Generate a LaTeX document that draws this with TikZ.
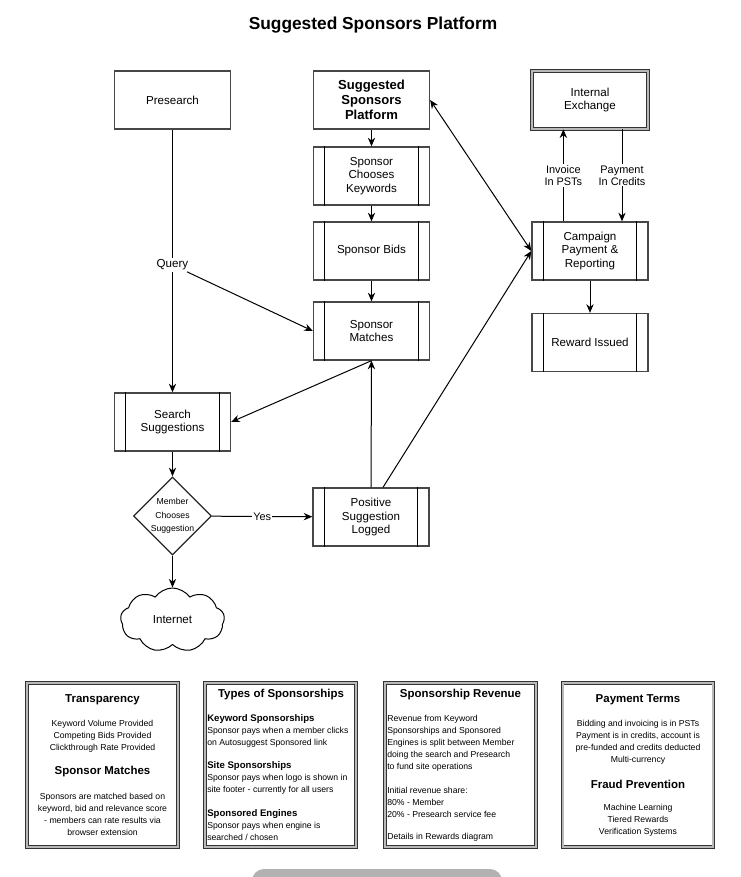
\documentclass[tikz,border=0pt]{standalone}
\usepackage{fontspec}
\setmainfont{Liberation Sans}
\usetikzlibrary{arrows.meta,shapes.geometric,shapes.symbols}
\tikzset{
  box/.style={draw=black!72, line width=1pt, minimum width=87pt, minimum height=43.5pt,
    align=center, inner sep=1pt, font=\fontsize{8.7}{10}\selectfont},
  xbox/.style={box, draw=black!80, line width=0.5pt, double=gray!55, double distance=1.6pt},
  infobox/.style={draw=black!80, line width=0.5pt, double=gray!55, double distance=1.6pt,
    minimum width=113pt, minimum height=123pt},
  head/.style={font=\bfseries\fontsize{8.6}{10}\selectfont, inner sep=0pt},
  body/.style={font=\fontsize{6.5}{9}\selectfont, inner sep=0pt},
  lbl/.style={fill=white, inner sep=1pt, align=center, font=\fontsize{8.2}{9}\selectfont},
  conn/.style={->, line width=0.75pt}
}
\begin{document}
\begin{tikzpicture}[x=0.75pt,y=-0.75pt,>={Stealth[length=6.5pt,width=5.5pt]}]
\useasboundingbox (0,0) rectangle (741,877);
\node[font=\bfseries\fontsize{13}{15}\selectfont] (title) at (373,25) {Suggested Sponsors Platform};

% top row
\node[box] (pres) at (172.5,100) {Presearch};
\node[box, font=\bfseries\fontsize{9.8}{11.25}\selectfont] (ssp) at (371.5,100) {Suggested\\Sponsors\\Platform};
\node[xbox] (xch) at (590,100) {Internal\\Exchange};

% process boxes
\node[box] (keyw) at (371.5,176) {Sponsor\\Chooses\\Keywords};
\node[box] (bids) at (371.5,251) {Sponsor Bids};
\node[box] (match) at (371.5,331) {Sponsor\\Matches};
\node[box] (camp) at (590,251) {Campaign\\Payment \&\\Reporting};
\node[box] (reward) at (590,342.5) {Reward Issued};
\node[box] (ssug) at (172.5,422) {Search\\Suggestions};
\node[box] (logged) at (371,517) {Positive\\Suggestion\\Logged};
\foreach \n in {keyw,bids,match,camp,reward,ssug,logged}{
  \draw[draw=black, line width=0.75pt] ([xshift=9pt]\n.north west) -- ([xshift=9pt]\n.south west);
  \draw[draw=black, line width=0.75pt] ([xshift=-9pt]\n.north east) -- ([xshift=-9pt]\n.south east);
}

\node[diamond, draw=black!85, line width=1pt, align=center, inner sep=0pt,
  minimum width=58.5pt, minimum height=57.75pt, font=\fontsize{6.5}{10}\selectfont] (choose) at (172.5,516) {Member\\Chooses\\Suggestion};
\node[cloud, draw, line width=0.75pt, cloud puffs=9, cloud puff arc=110, aspect=1.6, minimum width=78pt,
  minimum height=48pt, font=\fontsize{8.7}{10}\selectfont] (net) at (172.5,620) {Internet};

% connectors
\draw[conn] (pres.south) -- (ssug.north);
\node[lbl, font=\fontsize{8.7}{10}\selectfont] (query) at (172.5,265) {Query};
\draw[conn] (query) -- (match.west);
\draw[conn] (ssp) -- (keyw);
\draw[conn] (keyw) -- (bids);
\draw[conn] (bids) -- (match);
\draw[conn] (match.south) -- (ssug.east);
\draw[conn] (logged.north) -- (match.south);
\draw[conn] ([xshift=9pt]logged.north) -- (camp.west);
\draw[conn, <->] (ssp.east) -- (camp.west);
\draw[conn] ([xshift=-20pt]camp.north) -- node[lbl]{Invoice\\In PSTs} ([xshift=-20pt]xch.south);
\draw[conn] ([xshift=24pt]xch.south) -- node[lbl]{Payment\\In Credits} ([xshift=24pt]camp.north);
\draw[conn] (camp) -- (reward);
\draw[conn] (ssug) -- (choose);
\draw[conn] (choose) -- node[lbl]{Yes} (logged);
\draw[conn] (choose) -- (net);

% info boxes
\node[infobox] (trbox) at (102.5,765) {};
\node[head] (trh) at (102.5,700) {Transparency};
\node[body, align=center] (trt) at (102.5,736) {Keyword Volume Provided\\Competing Bids Provided\\Clickthrough Rate Provided};
\node[head] (smh) at (102.5,772) {Sponsor Matches};
\node[body, align=center] (smt) at (102.5,814) {Sponsors are matched based on\\keyword, bid and relevance score\\- members can rate results via\\browser extension};

\node[infobox] (tybox) at (280.5,765) {};
\node[head] (tyh) at (281,695) {Types of Sponsorships};
\node[body, align=left, anchor=west] (tykw) at (207,731) {{\bfseries\fontsize{7.2}{9}\selectfont Keyword Sponsorships}\\Sponsor pays when a member clicks\\on Autosuggest Sponsored link};
\node[body, align=left, anchor=west] (tysite) at (207,778) {{\bfseries\fontsize{7.2}{9}\selectfont Site Sponsorships}\\Sponsor pays when logo is shown in\\site footer - currently for all users};
\node[body, align=left, anchor=west] (tyeng) at (207,825) {{\bfseries\fontsize{7.2}{9}\selectfont Sponsored Engines}\\Sponsor pays when engine is\\searched / chosen};

\node[infobox] (rvbox) at (460.5,765) {};
\node[head] (rvh) at (460.5,695) {Sponsorship Revenue};
\node[body, align=left, anchor=west] (rvt) at (387,743) {Revenue from Keyword\\Sponsorships and Sponsored\\Engines is split between Member\\doing the search and Presearch\\to fund site operations};
\node[body, align=left, anchor=west] (rvs) at (387,802) {Initial revenue share:\\80\% - Member\\20\% - Presearch service fee};
\node[body, align=left, anchor=west] (rvd) at (387,837) {Details in Rewards diagram};

\node[infobox] (ptbox) at (638,765) {};
\node[head] (pth) at (638,700) {Payment Terms};
\node[body, align=center] (ptt) at (638,742) {Bidding and invoicing is in PSTs\\Payment is in credits, account is\\pre-funded and credits deducted\\Multi-currency};
\node[head] (fph) at (638,784) {Fraud Prevention};
\node[body, align=center] (fpt) at (638,820) {Machine Learning\\Tiered Rewards\\Verification Systems};

% grey tab at the bottom edge
\fill[gray!60, rounded corners=9pt] (252,869) rectangle (502,900);
\end{tikzpicture}
\end{document}
